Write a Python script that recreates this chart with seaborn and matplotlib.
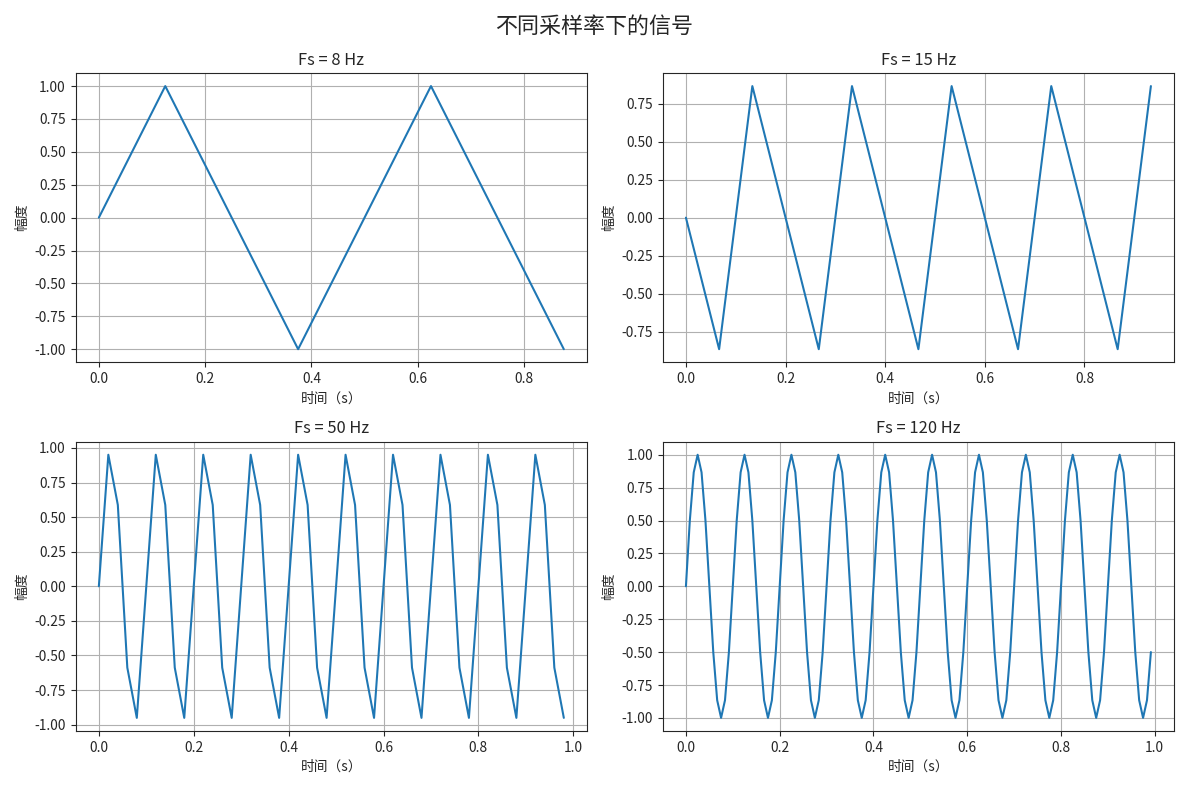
import matplotlib
matplotlib.use("Agg")
import matplotlib.pyplot as plt
import numpy as np
import seaborn as sns

rates = [8, 15, 50, 120]
period_8 = [0.0, 1.0, 0.0, -1.0]
period_15 = [0.0, -0.866, 0.866]
period_50 = [0.0, 0.951, 0.588, -0.588, -0.951]
period_120 = [0.0, 0.5, 0.866, 1.0, 0.866, 0.5, 0.0, -0.5, -0.866, -1.0, -0.866, -0.5]
values = [period_8 * 2, period_15 * 5, period_50 * 10, period_120 * 10]

sns.set_style("ticks")
plt.rcParams['font.family'] = ['Noto Sans CJK SC', 'DejaVu Sans']
plt.rcParams['axes.unicode_minus'] = False

fig, axes = plt.subplots(2, 2, figsize=(12.01, 7.97), dpi=99)
for ax, fs, y in zip(axes.flat, rates, values):
    t = np.arange(len(y)) / fs
    sns.lineplot(x=t, y=y, ax=ax, color="#1f77b4")
    ax.set_title(f"Fs = {fs} Hz")
    ax.set_xlabel("时间（s）")
    ax.set_ylabel("幅度")
    ax.grid(True, color="#b0b0b0")

fig.suptitle("不同采样率下的信号", fontsize=16)
fig.tight_layout()
fig.savefig("out.png")
